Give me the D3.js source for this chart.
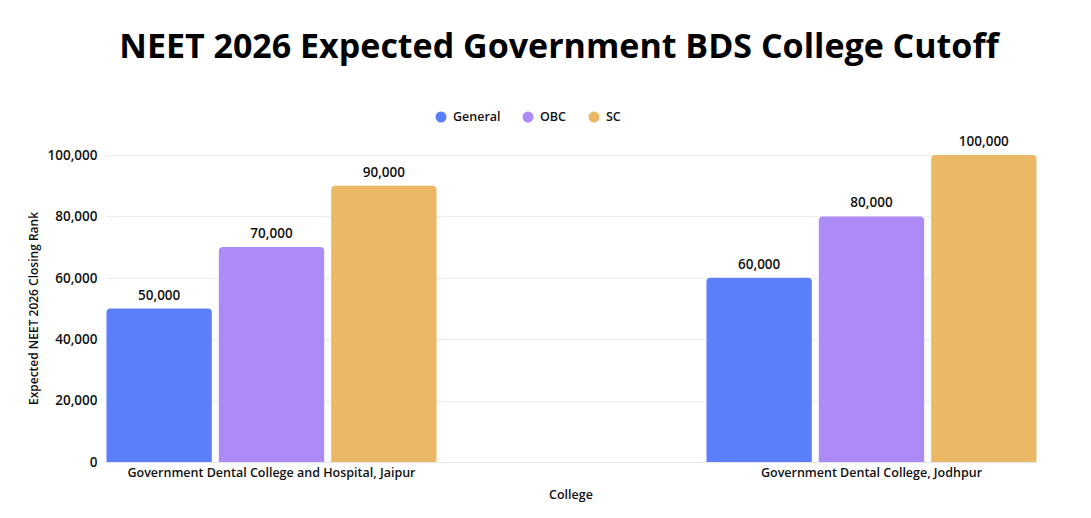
<!DOCTYPE html>
<html>
<head>
<meta charset="utf-8">
<script src="https://cdn.jsdelivr.net/npm/d3@7"></script>
<style>
  body { margin: 0; background: #fff; }
  svg { font-family: "Open Sans", sans-serif; }
</style>
</head>
<body>
<svg id="chart" width="1091" height="518"></svg>
<script>
const colleges = ['Government Dental College and Hospital, Jaipur', 'Government Dental College, Jodhpur'];
const categories = ['General', 'OBC', 'SC'];
const general = [50000, 60000];
const obc = [70000, 80000];
const sc = [90000, 100000];
const yTicks = [0, 20000, 40000, 60000, 80000, 100000];
const colors = ['#5b7ffb', '#ad8bf7', '#ebb866'];

const series = [general, obc, sc];
const rows = colleges.map((c, i) => ({
  college: c,
  values: categories.map((k, j) => ({ key: k, value: series[j][i] }))
}));

const svg = d3.select('#chart');
const mLeft = 106.5, mRight = 1036.5, mTop = 155, mBottom = 462;

const x0 = d3.scaleBand()
  .domain(colleges)
  .range([mLeft, mRight])
  .paddingInner(0.45)
  .paddingOuter(0);

const x1 = d3.scaleBand()
  .domain(categories)
  .range([0, x0.bandwidth()])
  .paddingInner(0.0625)
  .paddingOuter(0);

const y = d3.scaleLinear()
  .domain([0, 100000])
  .range([mBottom, mTop]);

const color = d3.scaleOrdinal().domain(categories).range(colors);
const fmt = d3.format(',');

// title
svg.append('text')
  .attr('x', 559)
  .attr('y', 58)
  .attr('text-anchor', 'middle')
  .attr('font-size', 34)
  .attr('font-weight', 700)
  .attr('fill', '#000')
  .text('NEET 2026 Expected Government BDS College Cutoff');

// legend
const legendX = [441, 528, 594];
const legend = svg.append('g');
categories.forEach((k, i) => {
  const g = legend.append('g').attr('transform', `translate(${legendX[i]},117)`);
  g.append('circle').attr('r', 5.5).attr('fill', color(k));
  g.append('text')
    .attr('x', 12)
    .attr('dy', '0.35em')
    .attr('font-size', 12.5)
    .attr('font-weight', 600)
    .attr('fill', '#111')
    .text(k);
});

// grid
svg.append('g')
  .selectAll('line')
  .data(yTicks)
  .join('line')
  .attr('x1', mLeft)
  .attr('x2', mRight)
  .attr('y1', d => Math.round(y(d)) + 0.5)
  .attr('y2', d => Math.round(y(d)) + 0.5)
  .attr('stroke', '#ececec')
  .attr('stroke-width', 1);

// y axis
const yAxis = svg.append('g')
  .attr('transform', `translate(${mLeft - 9},0)`)
  .call(d3.axisLeft(y).tickValues(yTicks).tickFormat(fmt).tickSize(0).tickPadding(0));
yAxis.select('.domain').remove();
yAxis.selectAll('text')
  .attr('font-family', '"Open Sans", sans-serif')
  .attr('font-size', 13.5)
  .attr('font-weight', 600)
  .attr('fill', '#111');

svg.append('text')
  .attr('transform', `translate(38,${(mTop + mBottom) / 2}) rotate(-90)`)
  .attr('text-anchor', 'middle')
  .attr('font-size', 12)
  .attr('font-weight', 600)
  .attr('fill', '#111')
  .text('Expected NEET 2026 Closing Rank');

// bars
const roundTop = (bx, by, w, h, r) => {
  r = Math.min(r, h);
  return `M${bx},${by + h}V${by + r}Q${bx},${by} ${bx + r},${by}H${bx + w - r}Q${bx + w},${by} ${bx + w},${by + r}V${by + h}Z`;
};

const groups = svg.append('g')
  .selectAll('g')
  .data(rows)
  .join('g')
  .attr('transform', d => `translate(${x0(d.college)},0)`);

groups.selectAll('path')
  .data(d => d.values)
  .join('path')
  .attr('d', d => roundTop(x1(d.key), y(d.value), x1.bandwidth(), y(0) - y(d.value), 4))
  .attr('fill', d => color(d.key));

groups.selectAll('text')
  .data(d => d.values)
  .join('text')
  .attr('x', d => x1(d.key) + x1.bandwidth() / 2)
  .attr('y', d => y(d.value) - 9)
  .attr('text-anchor', 'middle')
  .attr('font-size', 13.5)
  .attr('font-weight', 600)
  .attr('fill', '#111')
  .text(d => fmt(d.value));

// x axis
svg.append('line')
  .attr('x1', mLeft).attr('x2', mRight)
  .attr('y1', mBottom + 0.5).attr('y2', mBottom + 0.5)
  .attr('stroke', '#e6e6e6');

const xAxis = svg.append('g')
  .attr('transform', `translate(0,${mBottom})`)
  .call(d3.axisBottom(x0).tickSize(0).tickPadding(6));
xAxis.select('.domain').remove();
xAxis.selectAll('text')
  .attr('font-family', '"Open Sans", sans-serif')
  .attr('font-size', 12.5)
  .attr('font-weight', 600)
  .attr('fill', '#111');

svg.append('text')
  .attr('x', 571)
  .attr('y', 499)
  .attr('text-anchor', 'middle')
  .attr('font-size', 12.5)
  .attr('font-weight', 600)
  .attr('fill', '#111')
  .text('College');
</script>
</body>
</html>
